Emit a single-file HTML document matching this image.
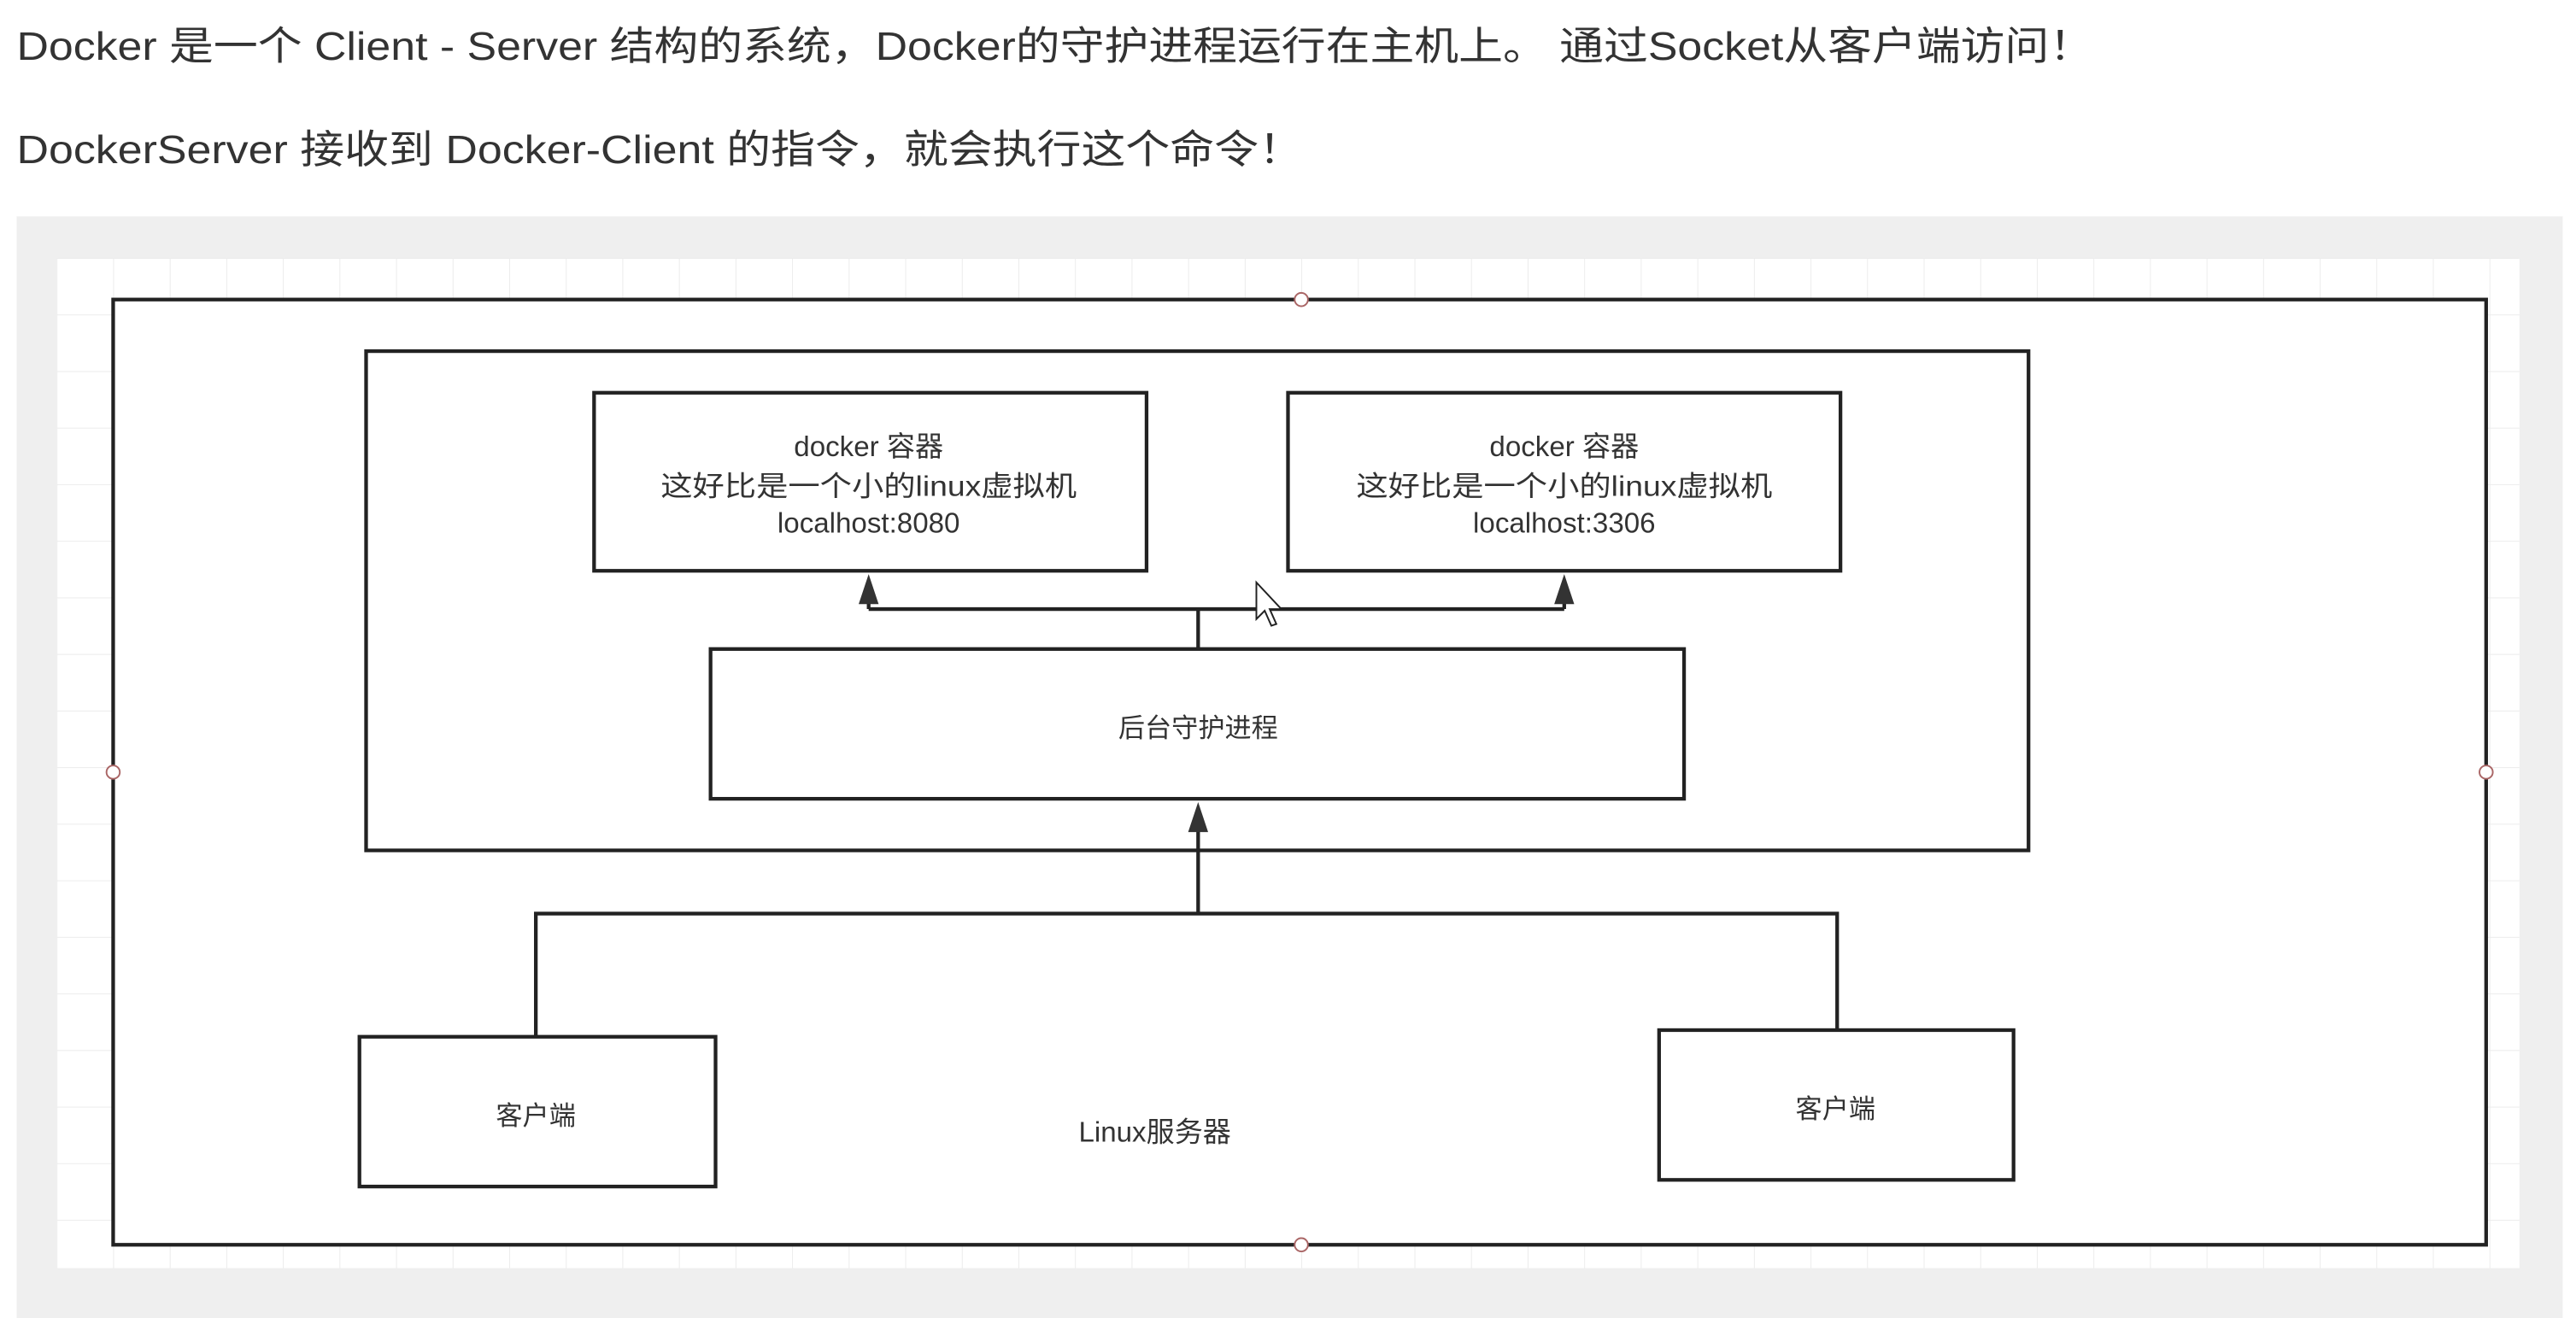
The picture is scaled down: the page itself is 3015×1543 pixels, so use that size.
<!DOCTYPE html>
<html><head><meta charset="utf-8"><style>
html,body{margin:0;padding:0;background:#fff;width:3015px;height:1543px;overflow:hidden}
svg{display:block}
text{font-family:"Liberation Sans","Noto Sans CJK SC",sans-serif}
</style></head><body>
<svg width="3015" height="1543" viewBox="0 0 1548 792" preserveAspectRatio="none" xmlns="http://www.w3.org/2000/svg">
<defs>
<pattern id="g" x="34" y="155" width="34" height="34" patternUnits="userSpaceOnUse">
<path d="M0 0H34M0 0V34" stroke="#ececec" stroke-width="1" fill="none"/>
</pattern>
</defs>
<rect width="1548" height="792" fill="#fff"/>
<text x="10" y="36" font-size="24" fill="#333" textLength="1248" lengthAdjust="spacingAndGlyphs">Docker 是一个 Client - Server 结构的系统，Docker的守护进程运行在主机上。 通过Socket从客户端访问！</text>
<text x="10" y="98" font-size="24" fill="#333" textLength="773" lengthAdjust="spacingAndGlyphs">DockerServer 接收到 Docker-Client 的指令，就会执行这个命令！</text>
<rect x="10" y="130" width="1530" height="662" fill="#efefef"/>
<rect x="34" y="155" width="1480" height="607" fill="#fff"/>
<rect x="34" y="155" width="1480" height="607" fill="url(#g)"/>
<g fill="#fff" stroke="#222" stroke-width="2.2">
<rect x="68" y="180" width="1426" height="568"/>
<rect x="220" y="211" width="999" height="300"/>
<rect x="357" y="236" width="332" height="107"/>
<rect x="774" y="236" width="332" height="107"/>
<rect x="427" y="390" width="585" height="90"/>
<rect x="216" y="623" width="214" height="90"/>
<rect x="997" y="619" width="213" height="90"/>
</g>
<g fill="#fff" stroke="#a66" stroke-width="1">
<circle cx="782" cy="180" r="4"/><circle cx="68" cy="464" r="4"/><circle cx="1494" cy="464" r="4"/><circle cx="782" cy="748" r="4"/>
</g>
<g fill="none" stroke="#222" stroke-width="2.2">
<path d="M720 390V366M522 366H940M522 366V360M940 366V360"/>
<path d="M322 623V549H1104V619M720 549V498"/>
</g>
<g fill="#333">
<polygon points="522,345 516,363 528,363"/>
<polygon points="940,345 934,363 946,363"/>
<polygon points="720,482 714,500 726,500"/>
</g>
<polygon points="755,350 755,372 760,367 764,376 767,375 763,366 770,366" fill="#fff" stroke="#222" stroke-width="1"/>
<g font-size="17" fill="#333" text-anchor="middle">
<text x="522" y="274">docker 容器</text>
<text x="522" y="298" textLength="250" lengthAdjust="spacingAndGlyphs">这好比是一个小的linux虚拟机</text>
<text x="522" y="320">localhost:8080</text>
<text x="940" y="274">docker 容器</text>
<text x="940" y="298" textLength="250" lengthAdjust="spacingAndGlyphs">这好比是一个小的linux虚拟机</text>
<text x="940" y="320">localhost:3306</text>
<text x="720" y="443" font-size="16">后台守护进程</text>
<text x="322" y="676" font-size="16">客户端</text>
<text x="1103" y="672" font-size="16">客户端</text>
<text x="694" y="686" font-size="17">Linux服务器</text>
</g>
</svg>
</body></html>
